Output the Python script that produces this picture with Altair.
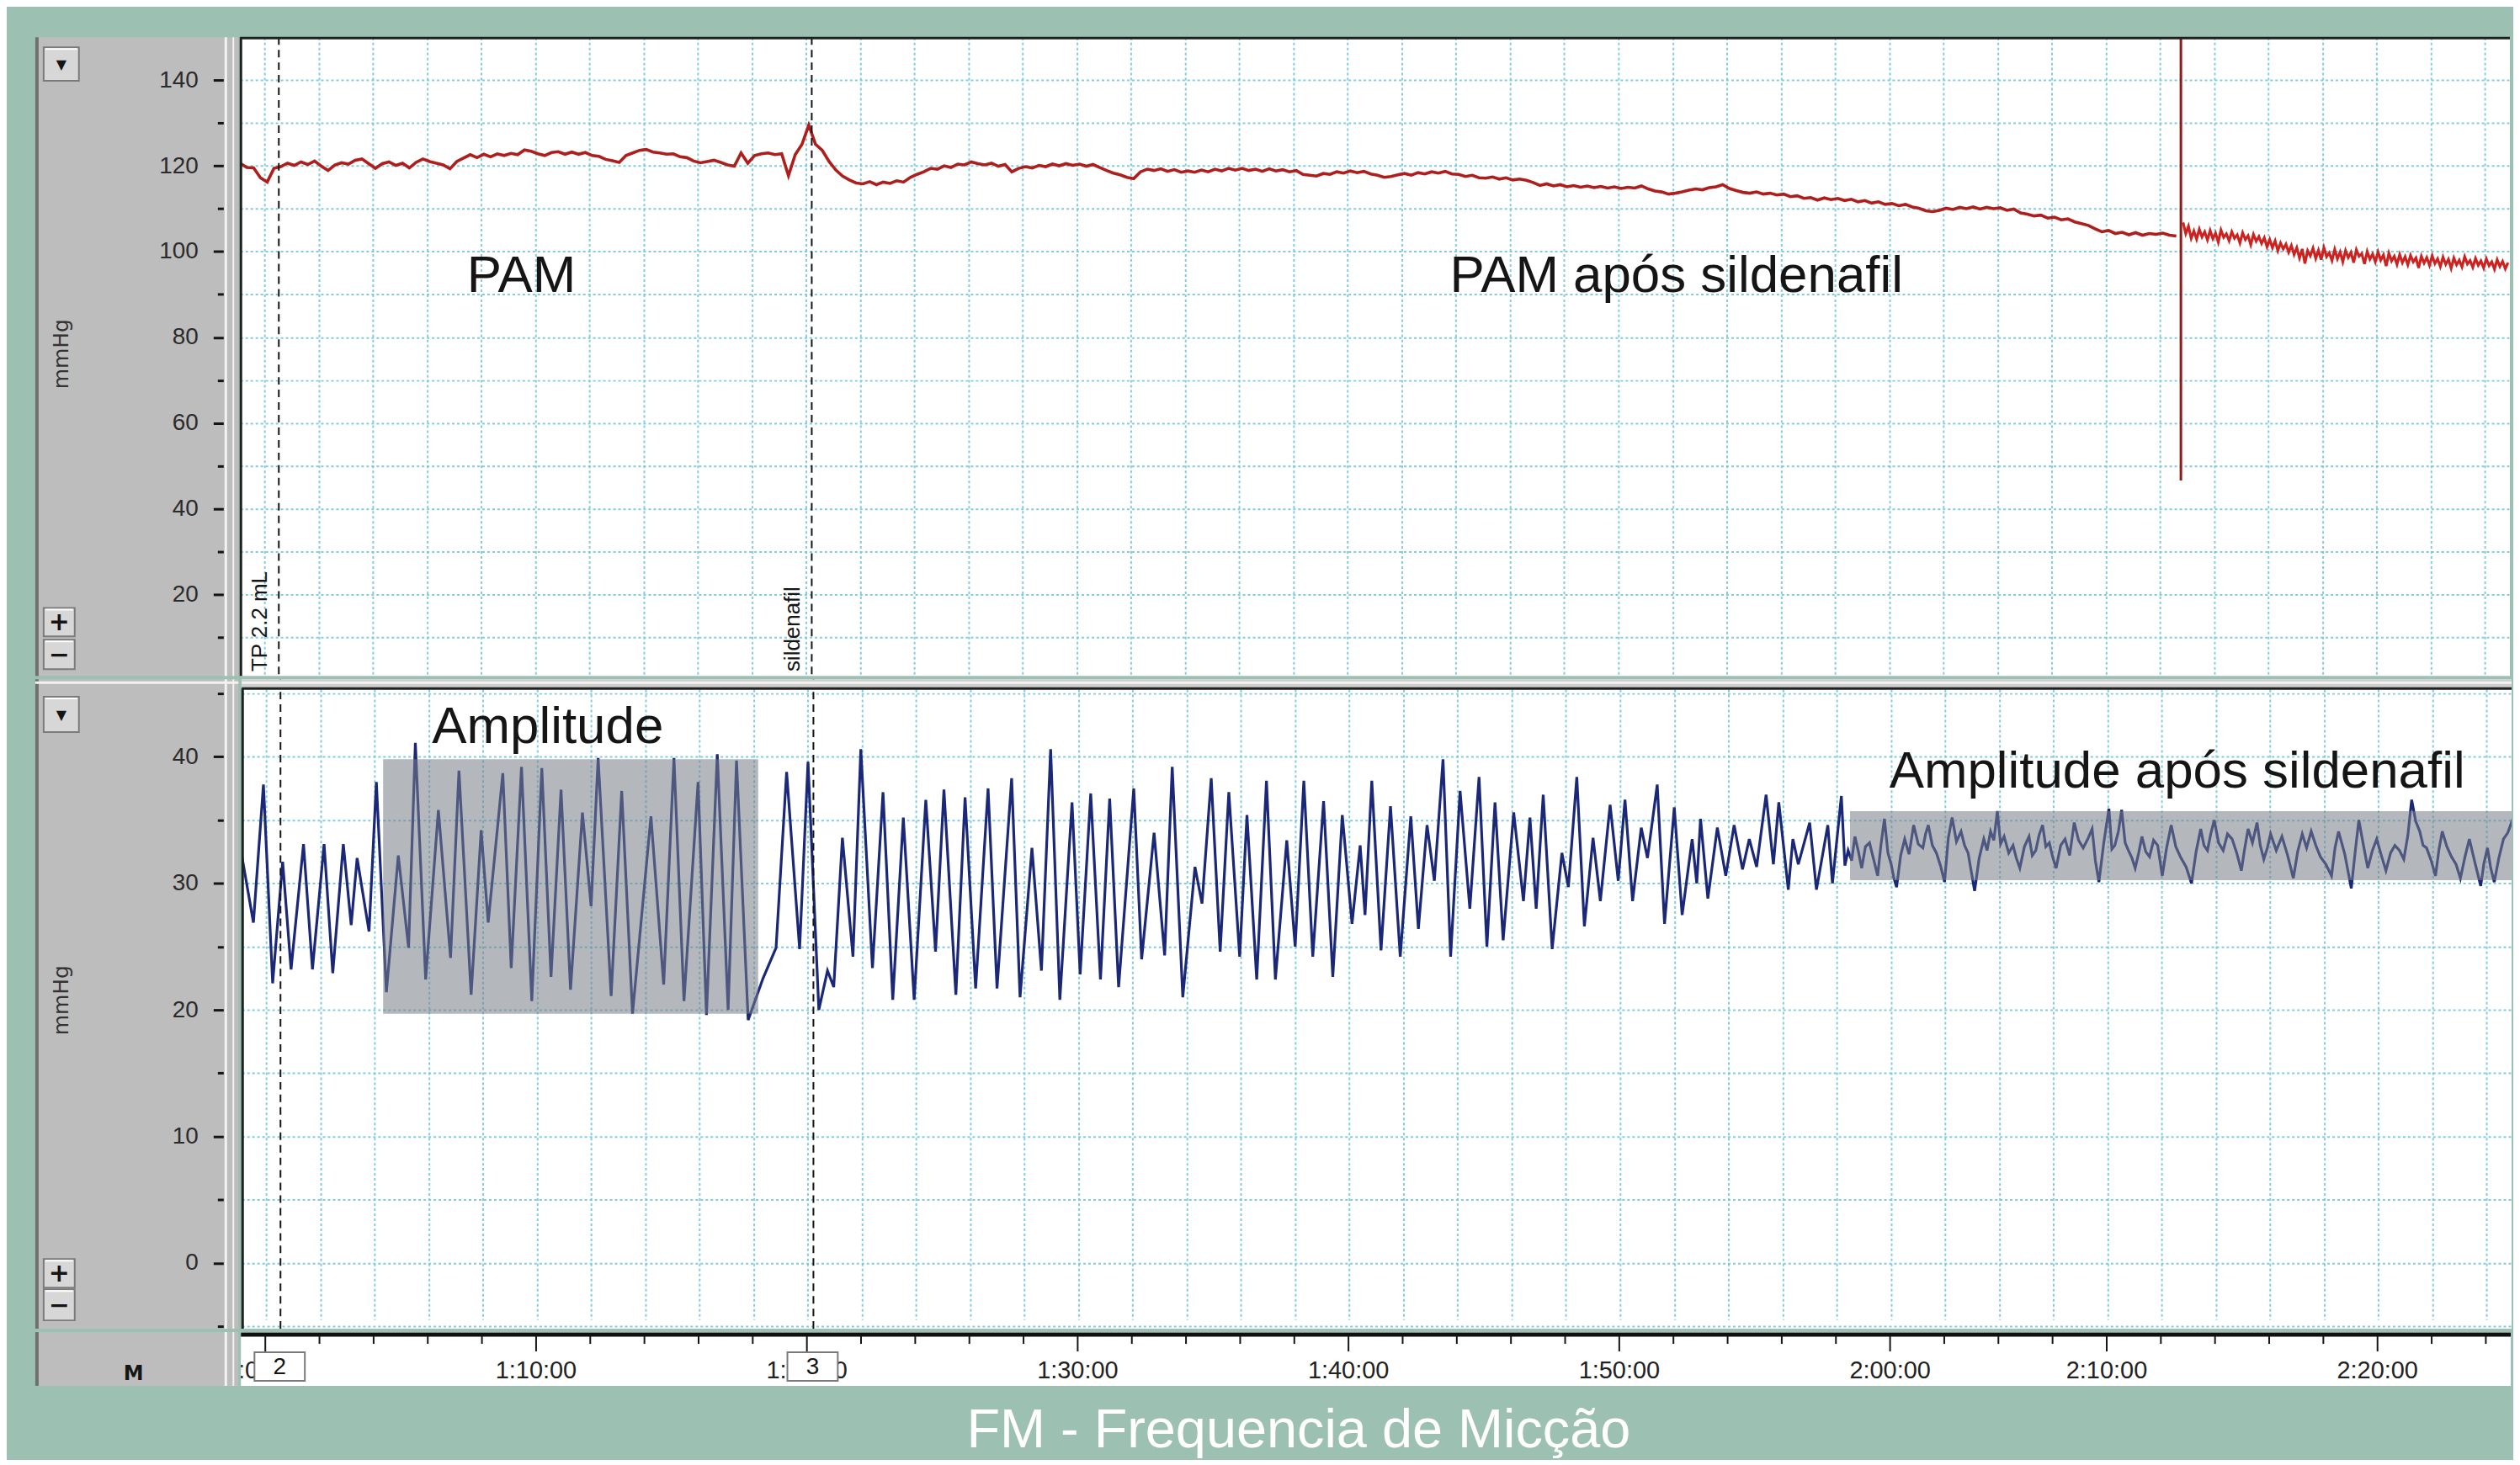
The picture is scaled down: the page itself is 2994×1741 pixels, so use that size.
import altair as alt
import pandas as pd

# ---------------- styles ----------------
TEAL = "#9cc1b2"
PANEL_GRAY = "#bdbdbd"
GRID = "#74c7dc"
RED = "#ad1e1c"
RED_POST = "#cc2320"
BLUE = "#1b2878"
INK = "#151515"

W, H1, H2, SEP, HS, LW = 2704, 761, 774, 11, 64, 242
AX = 224  # position of the y axis line inside the grey side panel

# ---------------- data ----------------
# chart clock in minutes (the recorder's clock skips ~2 min between 2:00:00 and 2:10:00)
PAM_T0, PAM_STEP = 59.10, 0.25
pam_values = [
    120.6, 119.6, 119.5, 117.2, 116.2, 119.4, 119.8, 120.6, 120.1, 120.9,
    120.3, 121.1, 119.9, 118.9, 120.2, 120.7, 120.4, 121.3, 121.6, 120.5,
    119.4, 120.5, 120.9, 120.1, 120.6, 119.5, 120.8, 121.6, 121.0, 120.6,
    120.2, 119.3, 121.0, 121.8, 122.6, 121.9, 122.7, 122.1, 122.8, 122.4,
    122.9, 122.6, 123.7, 123.4, 122.8, 122.4, 123.1, 123.3, 122.7, 123.2,
    122.7, 123.1, 122.4, 122.2, 121.5, 121.2, 120.8, 122.4, 123.0, 123.6,
    123.8, 123.2, 123.0, 122.7, 122.8, 122.1, 121.9, 121.1, 120.7, 121.0,
    121.3, 120.8, 120.2, 119.9, 123.0, 120.6, 122.4, 122.8, 123.0, 122.6,
    122.8, 117.7, 122.6, 125.0, 129.5, 125.0, 123.6, 121.0, 119.0, 117.6,
    116.7, 116.0, 115.8, 116.3, 115.6, 116.2, 115.9, 116.5, 116.2, 117.3,
    118.0, 118.6, 119.4, 119.2, 120.0, 119.6, 120.4, 120.2, 120.9, 120.5,
    120.2, 120.6, 119.9, 120.3, 118.6, 119.4, 119.8, 119.5, 120.1, 119.8,
    120.4, 120.0, 120.5, 120.1, 120.4, 119.9, 120.3, 119.6, 118.9, 118.3,
    117.9, 117.3, 117.0, 118.6, 119.2, 118.9, 119.3, 118.7, 119.1, 118.5,
    118.8, 118.5, 119.0, 118.6, 119.2, 118.8, 119.4, 119.0, 119.4, 118.9,
    119.2, 118.7, 119.3, 118.8, 119.1, 118.6, 118.9, 118.0, 117.8, 117.6,
    118.2, 118.0, 118.6, 118.3, 118.8, 118.4, 118.7, 118.1, 117.8, 117.3,
    117.5, 117.9, 118.2, 117.8, 118.4, 118.1, 118.6, 118.3, 118.7, 118.1,
    118.0, 117.5, 117.8, 117.2, 117.1, 117.4, 116.9, 117.2, 116.7, 116.9,
    116.6, 116.1, 115.4, 115.8, 115.3, 115.6, 115.1, 115.4, 115.0, 115.3,
    114.9, 115.2, 114.8, 115.1, 114.7, 115.0, 114.8, 115.3, 114.6, 114.1,
    113.9, 113.4, 113.6, 113.9, 114.3, 114.6, 114.4, 114.9, 115.1, 115.6,
    114.7, 114.2, 113.8, 113.6, 113.9, 113.4, 113.6, 113.2, 113.4, 112.8,
    113.0, 112.4, 112.6, 112.0, 112.5, 112.1, 112.4, 111.9, 112.2, 111.6,
    111.9, 111.3, 111.6, 111.0, 111.2, 110.7, 111.0, 110.4, 110.1, 109.5,
    109.3, 109.6, 110.1, 109.8, 110.3, 110.0, 110.4, 109.9, 110.3, 110.0,
    110.2, 109.6, 109.9, 109.0, 108.7, 108.3, 108.5, 107.8, 108.0, 107.4,
    107.6, 106.9, 106.5, 106.1, 105.3, 104.6, 104.9, 104.2, 104.5, 103.9,
    104.4, 103.8, 104.2, 104.0, 104.3, 103.8, 103.6,
]
# after the flush artefact the trace is sampled more densely (noisier band)
PAM_POST_T0, PAM_POST_STEP = 130.85, 0.10
pam_post_values = [
    106.8, 104.2, 105.9, 103.1, 104.8, 102.9, 105.2, 103.4, 104.6, 102.7,
    104.9, 103.0, 104.3, 102.2, 105.0, 103.3, 104.1, 102.5, 104.6, 103.1,
    103.9, 102.0, 104.4, 102.8, 103.7, 101.6, 104.0, 102.4, 103.5, 101.9,
    103.2, 101.1, 102.8, 100.9, 102.5, 100.2, 102.0, 100.6, 101.7, 99.8,
    101.4, 99.3, 100.9, 98.5, 100.6, 97.2, 100.2, 99.0, 100.8, 98.4,
    100.3, 98.1, 100.9, 98.8, 99.7, 97.9, 100.5, 98.3, 99.9, 97.6,
    100.2, 98.6, 99.8, 97.4, 100.4, 98.9, 99.5, 97.1, 100.0, 98.2,
    99.4, 97.6, 99.9, 98.0, 99.2, 96.6, 99.6, 97.8, 98.9, 97.0,
    99.3, 97.4, 98.8, 96.9, 99.1, 97.6, 98.5, 96.2, 98.9, 97.3,
    98.6, 96.8, 99.0, 97.2, 98.3, 96.5, 98.7, 97.0, 98.2, 96.1,
    98.5, 96.9, 98.0, 96.4, 98.8, 97.1, 97.9, 96.3, 98.4, 96.8,
    97.8, 96.2, 98.3, 96.7, 97.6, 95.9, 98.1, 96.5, 97.7, 96.0,
    97.4,
]
# artefact spike on the PAM trace (time, low, high)
spike_t, spike_lo, spike_hi = [130.77], [46.6], [150.0]

# bladder pressure trace (time, mmHg)
bladder = [
    (59.10, 32.2), (59.53, 26.9), (59.90, 37.8), (60.24, 22.1), (60.61, 31.7), (60.92, 23.2),
    (61.38, 33.1), (61.71, 23.2), (62.14, 33.1), (62.46, 22.9), (62.85, 33.1), (63.14, 26.7),
    (63.36, 32.0), (63.80, 26.2), (64.07, 38.0), (64.44, 21.4), (64.88, 32.2), (65.26, 24.9),
    (65.51, 41.1), (65.89, 22.4), (66.36, 35.8), (66.81, 24.1), (67.12, 38.9), (67.57, 21.2),
    (67.94, 34.2), (68.20, 26.9), (68.74, 38.7), (69.05, 23.3), (69.43, 39.2), (69.81, 20.7),
    (70.18, 39.1), (70.52, 22.6), (70.89, 37.4), (71.24, 21.6), (71.68, 35.6), (72.00, 28.2),
    (72.26, 39.9), (72.74, 21.1), (73.13, 37.3), (73.53, 19.7), (74.21, 35.3), (74.68, 22.0),
    (75.06, 39.9), (75.43, 20.7), (75.95, 38.0), (76.26, 19.6), (76.66, 40.2), (77.06, 20.0),
    (77.37, 39.7), (77.80, 19.2), (78.35, 22.5), (78.83, 24.9), (79.22, 38.8), (79.70, 24.8),
    (80.01, 39.6), (80.41, 20.0), (80.73, 23.1), (80.96, 21.8), (81.28, 33.6), (81.67, 24.2),
    (81.96, 40.6), (82.39, 23.3), (82.78, 37.2), (83.14, 20.8), (83.53, 35.2), (83.93, 20.8),
    (84.36, 36.6), (84.72, 24.6), (85.03, 37.4), (85.47, 21.2), (85.81, 36.8), (86.20, 21.7),
    (86.66, 37.5), (86.99, 21.7), (87.53, 38.3), (87.84, 21.0), (88.28, 32.8), (88.63, 23.1),
    (88.97, 40.6), (89.31, 20.8), (89.76, 36.4), (90.06, 22.8), (90.45, 37.1), (90.81, 22.4),
    (91.15, 36.7), (91.48, 21.8), (92.04, 37.5), (92.33, 24.0), (92.79, 34.0), (93.18, 24.3),
    (93.46, 39.2), (93.85, 21.0), (94.30, 31.3), (94.56, 28.4), (94.90, 38.3), (95.23, 24.6),
    (95.55, 37.2), (95.95, 24.2), (96.22, 35.4), (96.58, 22.4), (96.94, 38.1), (97.27, 22.4),
    (97.69, 33.4), (98.00, 25.0), (98.32, 38.1), (98.65, 24.2), (99.05, 36.5), (99.39, 22.6),
    (99.74, 35.4), (100.10, 26.8), (100.40, 33.0), (100.58, 27.5), (100.83, 38.1), (101.17, 24.7),
    (101.52, 36.1), (101.88, 24.2), (102.27, 35.3), (102.55, 26.4), (102.87, 34.6), (103.14, 30.2),
    (103.46, 39.8), (103.74, 24.2), (104.09, 37.3), (104.45, 28.0), (104.79, 38.4), (105.08, 25.0),
    (105.38, 36.4), (105.68, 25.5), (106.07, 35.6), (106.43, 28.6), (106.67, 35.2), (106.90, 28.0),
    (107.16, 37.0), (107.49, 24.8), (107.85, 32.4), (108.09, 29.7), (108.40, 38.4), (108.68, 26.6),
    (109.00, 33.6), (109.27, 28.6), (109.63, 36.2), (109.93, 30.2), (110.18, 36.6), (110.46, 28.6),
    (110.78, 34.4), (111.01, 32.0), (111.37, 37.8), (111.64, 26.8), (112.00, 36.0), (112.29, 27.5),
    (112.66, 33.5), (112.83, 30.0), (112.97, 35.1), (113.24, 28.8), (113.59, 34.4), (113.90, 30.6),
    (114.21, 34.6), (114.52, 31.1), (114.77, 33.5), (115.04, 31.3), (115.39, 37.0), (115.66, 31.5),
    (115.86, 36.4), (116.21, 29.5), (116.38, 33.5), (116.58, 31.5), (117.00, 34.8), (117.25, 29.5),
    (117.67, 34.6), (117.84, 30.0), (118.17, 36.9), (118.30, 31.4), (118.42, 32.6), (118.55, 31.8),
    (118.67, 33.7), (118.80, 32.5), (118.92, 31.2), (119.06, 32.9), (119.21, 33.2), (119.36, 31.9),
    (119.51, 30.6), (119.63, 33.0), (119.76, 35.1), (119.89, 32.4), (120.01, 31.5), (120.11, 30.4),
    (120.21, 29.7), (120.36, 32.2), (120.51, 33.5), (120.67, 32.3), (120.84, 34.6), (121.01, 33.1),
    (121.18, 32.8), (121.28, 33.9), (121.38, 34.6), (121.53, 33.0), (121.68, 32.4), (121.83, 31.4),
    (121.98, 30.1), (122.12, 33.6), (122.26, 35.2), (122.42, 33.3), (122.59, 34.1), (122.72, 33.0),
    (122.85, 32.4), (122.97, 30.9), (123.09, 29.4), (123.26, 32.0), (123.43, 33.5), (123.55, 32.6),
    (123.68, 34.1), (123.80, 33.4), (123.93, 35.7), (124.05, 33.1), (124.18, 33.7), (124.35, 32.4),
    (124.51, 33.0), (124.63, 32.0), (124.76, 31.2), (124.93, 32.9), (125.10, 33.7), (125.22, 32.2),
    (125.35, 32.6), (125.47, 33.8), (125.60, 34.6), (125.72, 32.9), (125.85, 33.2), (125.97, 32.1),
    (126.10, 31.2), (126.27, 33.0), (126.43, 33.5), (126.60, 32.2), (126.77, 34.8), (126.93, 33.4),
    (127.10, 32.8), (127.27, 33.5), (127.43, 34.3), (127.55, 31.8), (127.68, 30.1), (127.86, 33.2),
    (128.05, 35.9), (128.16, 32.7), (128.27, 33.0), (128.40, 34.1), (128.52, 35.8), (128.65, 33.2),
    (128.77, 32.6), (128.90, 32.0), (129.02, 31.2), (129.15, 32.4), (129.27, 33.7), (129.41, 32.5),
    (129.55, 32.1), (129.70, 33.4), (129.85, 33.0), (129.93, 31.9), (130.02, 30.6), (130.18, 32.8),
    (130.35, 34.6), (130.52, 32.9), (130.69, 32.1), (130.90, 31.3), (131.10, 30.0), (131.27, 32.5),
    (131.44, 34.3), (131.56, 33.0), (131.69, 32.6), (131.81, 33.9), (131.94, 35.0), (132.10, 33.2),
    (132.27, 32.6), (132.43, 33.9), (132.60, 33.5), (132.77, 32.4), (132.94, 31.0), (133.06, 32.7),
    (133.19, 34.3), (133.35, 33.2), (133.52, 34.8), (133.64, 33.0), (133.77, 31.9), (133.90, 32.8),
    (134.02, 33.9), (134.23, 32.6), (134.44, 33.7), (134.65, 32.2), (134.86, 30.4), (135.02, 32.5),
    (135.19, 33.9), (135.35, 32.8), (135.52, 34.1), (135.69, 33.0), (135.86, 32.1), (136.06, 31.5),
    (136.27, 30.6), (136.40, 32.8), (136.53, 34.1), (136.76, 32.3), (137.00, 29.6), (137.14, 32.4),
    (137.28, 35.0), (137.45, 33.0), (137.61, 31.2), (137.78, 32.6), (137.94, 33.5), (138.11, 32.2),
    (138.28, 31.0), (138.45, 32.4), (138.61, 33.0), (138.78, 32.6), (138.94, 31.9), (139.09, 33.8),
    (139.23, 36.6), (139.38, 34.9), (139.53, 34.1), (139.65, 33.0), (139.78, 32.8), (139.95, 31.8),
    (140.11, 30.6), (140.24, 32.7), (140.36, 34.1), (140.53, 32.9), (140.70, 32.1), (140.87, 31.5),
    (141.03, 30.4), (141.20, 32.1), (141.36, 33.5), (141.57, 31.6), (141.78, 29.8), (141.90, 31.6),
    (142.03, 32.8), (142.15, 31.2), (142.28, 30.1), (142.45, 32.0), (142.62, 33.5), (142.78, 34.0),
    (142.95, 35.0), (143.17, 32.4),
]

# comment markers
marker_t = [60.53, 80.21]
marker_text = ["TP 2.2 mL", "sildenafil"]
marker_id = ["2", "3"]
MARKER_LABEL_V = 2.0  # anchor of the rotated comment text, in mmHg of the top panel

# shaded amplitude windows
box_t0 = [64.32, 118.49]
box_t1 = [78.17, 143.50]
box_v0 = [19.7, 30.25]
box_v1 = [39.8, 35.7]

# annotations
top_note_t = [69.49, 112.14]
top_note_v = [90.5, 90.5]
top_note_text = ["PAM", "PAM após sildenafil"]
bot_note_t = [70.40, 130.57]
bot_note_v = [41.06, 37.55]
bot_note_text = ["Amplitude", "Amplitude após sildenafil"]

# time axis
time_tick_t = [60, 70, 80, 90, 100, 110, 120, 128, 138]
time_tick_label = ["1:00:00", "1:10:00", "1:20:00", "1:30:00", "1:40:00",
                   "1:50:00", "2:00:00", "2:10:00", "2:20:00"]
grid_t = list(range(60, 143, 2))
minor_tick_t = [g for g in grid_t if g not in time_tick_t]
top_ticks = list(range(10, 150, 10))
bot_ticks = list(range(-5, 46, 5))

# ---------------- frames ----------------
pam_df = pd.DataFrame({"t": [PAM_T0 + i * PAM_STEP for i in range(len(pam_values))], "v": pam_values})
pam_post_df = pd.DataFrame({"t": [PAM_POST_T0 + i * PAM_POST_STEP for i in range(len(pam_post_values))],
                            "v": pam_post_values})
spike_df = pd.DataFrame({"t": spike_t, "v": spike_lo, "v2": spike_hi})
bl_df = pd.DataFrame({"t": [p[0] for p in bladder], "v": [p[1] for p in bladder]})
mk_df = pd.DataFrame({"t": marker_t, "v": [MARKER_LABEL_V] * len(marker_t),
                      "label": marker_text, "id": marker_id})
box_df = pd.DataFrame({"t": box_t0, "t2": box_t1, "v": box_v0, "v2": box_v1})
tn_df = pd.DataFrame({"t": top_note_t, "v": top_note_v, "label": top_note_text})
bn_df = pd.DataFrame({"t": bot_note_t, "v": bot_note_v, "label": bot_note_text})
major_df = pd.DataFrame({"t": time_tick_t, "label": time_tick_label})
minor_df = pd.DataFrame({"t": minor_tick_t})
ONE = pd.DataFrame({"k": [0]})

# ---------------- scales / axes ----------------
xs = alt.Scale(domain=[59.10, 142.92], nice=False, zero=False)
ys_top = alt.Scale(domain=[1, 150], nice=False, zero=False)
ys_bot = alt.Scale(domain=[-5.2, 45.4], range=[H2, SEP], nice=False, zero=False)


def grid_axis(vals):
    return alt.Axis(values=vals, grid=True, labels=False, ticks=False, domain=False,
                    title=None, gridColor=GRID, gridDash=[3, 3], gridWidth=2,
                    gridOpacity=0.9, minExtent=0, maxExtent=0)


def label_axis(vals, test, title_y):
    return alt.Axis(values=vals, labelExpr=f"({test}) ? datum.label : ''", offset=-AX,
                    domain=False, grid=False, tickColor=INK, tickWidth=3,
                    tickSize={"condition": {"test": test, "value": 12}, "value": 7},
                    labelFont="Liberation Sans", labelFontSize=28, labelColor="#2b2b2b",
                    labelPadding=18, title="mmHg", titleFont="DejaVu Sans", titleFontSize=25,
                    titleFontWeight="normal", titleColor="#333333", titleAngle=270,
                    titleAlign="center", titleBaseline="middle", titleX=-193, titleY=title_y)


XG = alt.X("t:Q", scale=xs, axis=grid_axis(grid_t))
YT = alt.Y("v:Q", scale=ys_top, axis=grid_axis(top_ticks))
YT2 = alt.Y2("v2:Q")
YB = alt.Y("v:Q", scale=ys_bot, axis=grid_axis(bot_ticks))


def button(x0, y0, x1, y1, sym, size):
    return [
        alt.Chart(ONE).mark_rect(fill="#d7d7d7", stroke="#7b7b7b", strokeWidth=2).encode(
            x=alt.value(x0), x2=alt.value(x1), y=alt.value(y0), y2=alt.value(y1)),
        alt.Chart(ONE).mark_rule(color="white", strokeWidth=2).encode(
            x=alt.value(x0 + 2), x2=alt.value(x1 - 2), y=alt.value(y0 + 2)),
        alt.Chart(ONE).mark_text(text=sym, fontSize=size, fontWeight="bold", font="DejaVu Sans",
                                 color=INK).encode(x=alt.value((x0 + x1) / 2),
                                                   y=alt.value((y0 + y1) / 2 + 1)),
    ]


def side_chrome(top_line=False):
    out = [
        alt.Chart(ONE).mark_rule(color="#6f6f6f", strokeWidth=4).encode(x=alt.value(2)),
        alt.Chart(ONE).mark_rule(color="#f2f2f2", strokeWidth=3).encode(x=alt.value(227)),
        alt.Chart(ONE).mark_rule(color="#f2f2f2", strokeWidth=2).encode(x=alt.value(236)),
    ]
    if top_line:
        out.append(alt.Chart(ONE).mark_rule(color="#f2f2f2", strokeWidth=3).encode(y=alt.value(4)))
    return out


# ---------------- left grey panels ----------------
L1 = alt.layer(
    alt.Chart(pd.DataFrame({"v": top_ticks})).mark_point(opacity=0).encode(
        x=alt.value(120), y=alt.Y("v:Q", scale=ys_top, axis=label_axis(top_ticks, "datum.value % 20 == 0", 377))),
    *side_chrome(),
    *button(10, 12, 52, 52, "▼", 16),
    *button(10, 680, 47, 714, "+", 30),
    *button(10, 718, 47, 753, "−", 30),
).properties(width=LW, height=H1, view=alt.ViewBackground(fill=PANEL_GRAY, stroke=None))

L2 = alt.layer(
    alt.Chart(pd.DataFrame({"v": bot_ticks})).mark_point(opacity=0).encode(
        x=alt.value(120), y=alt.Y("v:Q", scale=ys_bot, axis=label_axis(bot_ticks, "datum.value % 10 == 0", 382))),
    *side_chrome(top_line=True),
    *button(10, 21, 52, 63, "▼", 16),
    *button(10, 691, 47, 725, "+", 30),
    *button(10, 727, 47, 764, "−", 30),
).properties(width=LW, height=H2, view=alt.ViewBackground(fill=PANEL_GRAY, stroke=None))

L3 = alt.layer(
    *side_chrome(),
    alt.Chart(ONE).mark_text(text="M", fontSize=24, fontWeight="bold", font="DejaVu Sans",
                             color=INK).encode(x=alt.value(117), y=alt.value(50)),
).properties(width=LW, height=HS, view=alt.ViewBackground(fill=PANEL_GRAY, stroke=None))

# ---------------- top panel: PAM ----------------
P1 = alt.layer(
    alt.Chart(pam_df).mark_line(color=RED, strokeWidth=3.6, clip=True).encode(x=XG, y=YT),
    alt.Chart(pam_post_df).mark_line(color=RED_POST, strokeWidth=3.2, clip=True).encode(x=XG, y=YT),
    alt.Chart(spike_df).mark_rule(color="#8e1a18", strokeWidth=3, clip=True).encode(x=XG, y=YT, y2=YT2),
    alt.Chart(mk_df).mark_rule(color=INK, strokeWidth=2, strokeDash=[9, 6]).encode(x=XG),
    alt.Chart(mk_df).mark_text(angle=270, align="left", baseline="bottom", dy=-9,
                               font="Liberation Sans", fontSize=26, color=INK).encode(
        x=XG, y=YT, text="label:N"),
    alt.Chart(tn_df).mark_text(font="Liberation Sans", fontSize=62, color=INK, align="center",
                               baseline="alphabetic").encode(x=XG, y=YT, text="label:N"),
    alt.Chart(ONE).mark_rule(color="#202020", strokeWidth=3).encode(x=alt.value(1)),
    alt.Chart(ONE).mark_rule(color="#202020", strokeWidth=3).encode(y=alt.value(1)),
).properties(width=W, height=H1, view=alt.ViewBackground(fill="white", stroke=None))

# ---------------- bottom panel: bladder pressure ----------------
P2 = alt.layer(
    alt.Chart(bl_df).mark_line(color=BLUE, strokeWidth=3.2, clip=True).encode(x=XG, y=YB),
    alt.Chart(box_df).mark_rect(color="#777d86", opacity=0.55, clip=True).encode(
        x=XG, x2=alt.X2("t2:Q"), y=YB, y2=alt.Y2("v2:Q")),
    alt.Chart(mk_df).mark_rule(color=INK, strokeWidth=2, strokeDash=[9, 6]).encode(x=XG),
    alt.Chart(bn_df).mark_text(font="Liberation Sans", fontSize=62, color=INK, align="center",
                               baseline="alphabetic").encode(x=XG, y=YB, text="label:N"),
    alt.Chart(ONE).mark_rect(color="#cdcdcd").encode(
        x=alt.value(0), x2=alt.value(W), y=alt.value(0), y2=alt.value(SEP)),
    alt.Chart(ONE).mark_rule(color="#f2f2f2", strokeWidth=3).encode(y=alt.value(4)),
    alt.Chart(ONE).mark_rule(color="#202020", strokeWidth=3).encode(y=alt.value(SEP)),
    alt.Chart(ONE).mark_rule(color="#202020", strokeWidth=3).encode(
        x=alt.value(1), y=alt.value(SEP), y2=alt.value(H2)),
).properties(width=W, height=H2, view=alt.ViewBackground(fill="white", stroke=None))

# ---------------- time strip ----------------
XS = alt.X("t:Q", scale=xs, axis=None)
S = alt.layer(
    alt.Chart(ONE).mark_rule(color="#101010", strokeWidth=5).encode(y=alt.value(3)),
    alt.Chart(minor_df).mark_rule(color=INK, strokeWidth=2).encode(x=XS, y=alt.value(4), y2=alt.value(14)),
    alt.Chart(major_df).mark_rule(color=INK, strokeWidth=2).encode(x=XS, y=alt.value(4), y2=alt.value(23)),
    alt.Chart(major_df).mark_text(font="Liberation Sans", fontSize=29, color="#222222",
                                  baseline="middle", clip=True).encode(
        x=XS, y=alt.value(46), text="label:N"),
    alt.Chart(mk_df).transform_calculate(a="datum.t - 0.93", b="datum.t + 0.93").mark_rect(
        fill="white", stroke="#7a7a7a", strokeWidth=2, clip=True).encode(
        x=alt.X("a:Q", scale=xs, axis=None), x2="b:Q", y=alt.value(24), y2=alt.value(58)),
    alt.Chart(mk_df).mark_text(font="Liberation Sans", fontSize=28, color=INK,
                               baseline="middle").encode(x=XS, y=alt.value(42), text="id:N"),
).properties(width=W, height=HS, view=alt.ViewBackground(fill="white", stroke=None))

row1 = alt.hconcat(L1, P1, spacing=0)
row2 = alt.hconcat(L2, P2, spacing=0)
row3 = alt.hconcat(L3, S, spacing=0)

chart = alt.vconcat(row1, row2, row3, spacing=0).properties(
    background=TEAL,
    padding={"left": 32, "top": 32, "right": 0, "bottom": 0},
    title=alt.TitleParams(text="FM - Frequencia de Micção", orient="bottom", anchor="middle",
                          font="Liberation Sans", fontSize=65, fontWeight="normal",
                          color="white", offset=20, dx=30),
).configure_view(stroke=None)

chart.save("out.html", embed_options={"renderer": "svg", "actions": False})
